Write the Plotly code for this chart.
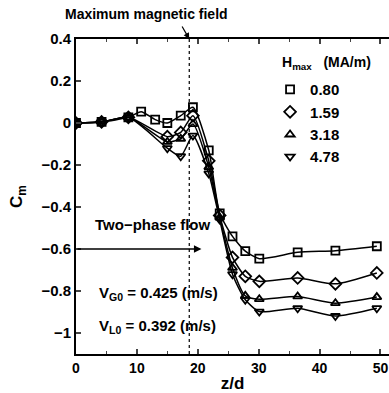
import plotly.graph_objects as go

# Measurement stations along the duct (z/d)
z_full = [0, 4.2, 8.6, 10.7, 13.0, 15.0, 17.2, 19.2, 21.8, 23.6, 25.7, 27.8, 30.1, 36.4, 42.6, 49.4]
z_part = [0, 4.2, 8.6, 15.0, 17.2, 19.2, 21.8, 23.6, 25.7, 27.8, 30.1, 36.4, 42.6, 49.4]

# Momentum coefficient C_m for each peak field strength
cm_080 = [0, 0.005, 0.027, 0.054, 0.016, 0.0, 0.035, 0.075, -0.13, -0.43, -0.54, -0.61, -0.646, -0.616, -0.608, -0.587]
cm_159 = [0, 0.005, 0.027, -0.065, -0.045, 0.035, -0.18, -0.44, -0.64, -0.73, -0.754, -0.738, -0.766, -0.714]
cm_318 = [0, 0.005, 0.027, -0.09, -0.075, -0.005, -0.21, -0.45, -0.69, -0.823, -0.839, -0.826, -0.858, -0.829]
cm_478 = [0, 0.005, 0.027, -0.12, -0.158, -0.06, -0.24, -0.46, -0.72, -0.842, -0.898, -0.882, -0.919, -0.882]

labels = ["0.80", "1.59", "3.18", "4.78"]
symbols = ["square-open", "diamond-open", "triangle-up-open", "triangle-down-open"]
sizes = [8, 9, 8, 8]

x_ticks = [0, 10, 20, 30, 40, 50]
y_ticks = [0.4, 0.2, 0, -0.2, -0.4, -0.6, -0.8, -1]
y_tick_text = ["0.4", "0.2", "0", "\u22120.2", "\u22120.4", "\u22120.6", "\u22120.8", "\u22121"]

z_field_peak = 18.6

series = [(z_full, cm_080), (z_part, cm_159), (z_part, cm_318), (z_part, cm_478)]

FONT = "Liberation Sans"
TXT = dict(family=FONT, color="black", weight="bold")

fig = go.Figure()

for zz, cc in series:
    fig.add_trace(go.Scatter(
        x=zz, y=cc, mode="lines", showlegend=False,
        line=dict(color="black", width=1.5, shape="spline", smoothing=0.6),
        hoverinfo="skip"))

# one small legend box per series so the rows can be spaced freely
legend_names = ["legend", "legend2", "legend3", "legend4"]
legend_rows = [0.839, 0.768, 0.696, 0.626]
for (zz, cc), lab, sym, sz, lg in zip(series, labels, symbols, sizes, legend_names):
    fig.add_trace(go.Scatter(
        x=zz, y=cc, mode="markers", name=lab, legend=lg,
        marker=dict(symbol=sym, size=sz, color="black",
                    line=dict(color="black", width=1.8))))

# dotted line at the peak of the applied field
fig.add_shape(type="line", x0=z_field_peak, x1=z_field_peak, y0=0, y1=1,
              xref="x", yref="paper",
              line=dict(color="black", width=1.2, dash="dot"))

fig.add_annotation(x=-0.04, y=1.078, xref="paper", yref="paper",
                   text="Maximum magnetic field", showarrow=False,
                   xanchor="left", yanchor="middle", font=dict(size=14, **TXT))
fig.add_annotation(x=z_field_peak, y=0.4, xref="x", yref="y", text="",
                   showarrow=True, ax=-8, ay=-14, arrowhead=2, arrowsize=1,
                   arrowwidth=1.2, arrowcolor="black")

fig.add_annotation(x=2.8, y=-0.483, xref="x", yref="y", text="Two\u2212phase flow",
                   showarrow=False, xanchor="left", yanchor="middle",
                   font=dict(size=15, **TXT))
fig.add_annotation(x=20.6, y=-0.6, xref="x", yref="y", ax=0, ay=-0.6,
                   axref="x", ayref="y", text="", showarrow=True,
                   arrowhead=2, arrowsize=1, arrowwidth=1.5, arrowcolor="black")

fig.add_annotation(x=3.5, y=-0.813, xref="x", yref="y",
                   text="V<sub>G0</sub> = 0.425 (m/s)", showarrow=False,
                   xanchor="left", yanchor="middle", font=dict(size=15, **TXT))
fig.add_annotation(x=3.5, y=-0.971, xref="x", yref="y",
                   text="V<sub>L0</sub> = 0.392 (m/s)", showarrow=False,
                   xanchor="left", yanchor="middle", font=dict(size=15, **TXT))

# legend heading
fig.add_annotation(x=0.652, y=0.925, xref="paper", yref="paper",
                   text="H<sub>max</sub>   (MA/m)", showarrow=False,
                   xanchor="left", yanchor="middle", font=dict(size=14, **TXT))

legend_style = dict(x=0.62, xanchor="left", yanchor="middle",
                    bgcolor="rgba(0,0,0,0)", itemwidth=30,
                    font=dict(size=15, **TXT))

fig.update_layout(
    width=389, height=393,
    margin=dict(l=76, r=0, t=39, b=39),
    paper_bgcolor="white", plot_bgcolor="white",
    font=dict(size=13, **TXT),
    legend=dict(y=legend_rows[0], **legend_style),
    legend2=dict(y=legend_rows[1], **legend_style),
    legend3=dict(y=legend_rows[2], **legend_style),
    legend4=dict(y=legend_rows[3], **legend_style),
    xaxis=dict(range=[0, 51.4], tickvals=x_ticks, ticks="inside", ticklen=5,
               tickwidth=1.5, showline=True, linecolor="black", linewidth=2,
               mirror="ticks", showgrid=False, zeroline=False,
               minor=dict(dtick=5, ticks="inside", ticklen=3, tickwidth=1.2),
               title=dict(text="z/d", font=dict(size=17, **TXT), standoff=4),
               tickfont=dict(size=14, **TXT)),
    yaxis=dict(range=[-1.1, 0.4], tickvals=y_ticks, ticktext=y_tick_text,
               ticks="inside", ticklen=5, tickwidth=1.5,
               showline=True, linecolor="black", linewidth=2,
               showgrid=False, zeroline=False,
               title=dict(text="C<sub>m</sub>", font=dict(size=17, **TXT), standoff=14),
               tickfont=dict(size=15, **TXT)),
)

fig.write_html("out.html")
